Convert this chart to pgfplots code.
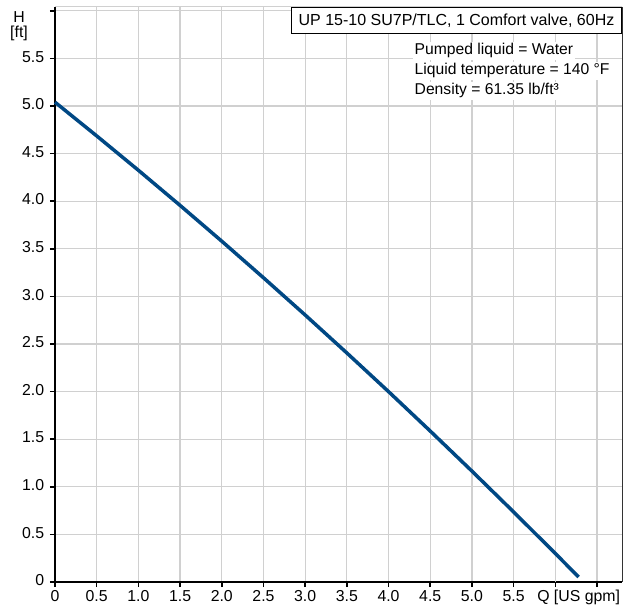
\documentclass[border=0pt]{standalone}
\usepackage{pgfplots}
\pgfplotsset{compat=1.18}
\usepackage{fontspec}
\setmainfont{Liberation Sans}
\definecolor{curve}{RGB}{0,72,132}
\definecolor{gridc}{RGB}{208,208,208}
\begin{document}
\begin{tikzpicture}
\begin{axis}[
  width=340.2pt, height=345pt, scale only axis,
  xmin=0, xmax=6.8, ymin=0, ymax=6.04,
  axis lines*=left,
  axis line style={black, line width=1.1pt},
  xtick={0,0.5,1,1.5,2,2.5,3,3.5,4,4.5,5,5.5,6.5},
  xticklabels={0,0.5,1.0,1.5,2.0,2.5,3.0,3.5,4.0,4.5,5.0,5.5,},
  extra x ticks={6},
  extra x tick labels={Q [US gpm]},
  extra x tick style={xticklabel style={xshift=14pt}},
  ytick={0,0.5,1,1.5,2,2.5,3,3.5,4,4.5,5,5.5,6},
  yticklabels={0,0.5,1.0,1.5,2.0,2.5,3.0,3.5,4.0,4.5,5.0,5.5,},
  tick align=outside,
  major tick length=3pt,
  tick style={black, line width=0.9pt},
  typeset ticklabels with strut,
  ticklabel style={font=\fontsize{9.5}{11}\selectfont},
  xticklabel style={yshift=2.5pt},
  grid=major,
  major grid style={gridc, line width=0.75pt},
  clip=false,
]
\draw[gridc, line width=0.6pt] (rel axis cs:0,1) -- (rel axis cs:1,1);
\draw[black!80, line width=0.6pt] (rel axis cs:1,1) -- (rel axis cs:1,0);
\addplot[curve, line width=2.1pt] coordinates {
  (0,5.040) (0.5,4.686) (1.0,4.325) (1.5,3.956) (2.0,3.580) (2.5,3.196)
  (3.0,2.805) (3.5,2.406) (4.0,2.000) (4.5,1.586) (5.0,1.165) (5.5,0.736)
  (6.0,0.300) (6.28,0.052)
};
\node[anchor=north east, draw=black, line width=0.6pt, fill=white,
      minimum width=198pt, minimum height=15.6pt, inner sep=1pt,
      font=\fontsize{9.6}{11}\selectfont] at (rel axis cs:1,1)
      {UP 15-10 SU7P/TLC, 1 Comfort valve, 60Hz};
\node[anchor=base west, fill=white, inner sep=1pt, font=\fontsize{9.4}{11}\selectfont]
  at (axis cs:4.29,5.538) {Pumped liquid = Water};
\node[anchor=base west, fill=white, inner sep=1pt, font=\fontsize{9.4}{11}\selectfont]
  at (axis cs:4.29,5.328) {Liquid temperature = 140 °F};
\node[anchor=base west, fill=white, inner sep=1pt, font=\fontsize{9.4}{11}\selectfont]
  at (axis cs:4.29,5.118) {Density = 61.35 lb/ft³};
\node[anchor=north, align=center, inner sep=0pt,
      font=\fontsize{9.5}{9}\selectfont, xshift=-21.6pt, yshift=-0.5pt]
  at (axis cs:0,6) {H\\{[ft]}};
\path (rel axis cs:0,0) ++(-33pt,-15.8pt) coordinate (bbA);
\path (rel axis cs:1,1) ++(7.8pt,4.2pt) coordinate (bbB);
\end{axis}
\pgfresetboundingbox
\path (bbA) rectangle (bbB);
\end{tikzpicture}
\end{document}
